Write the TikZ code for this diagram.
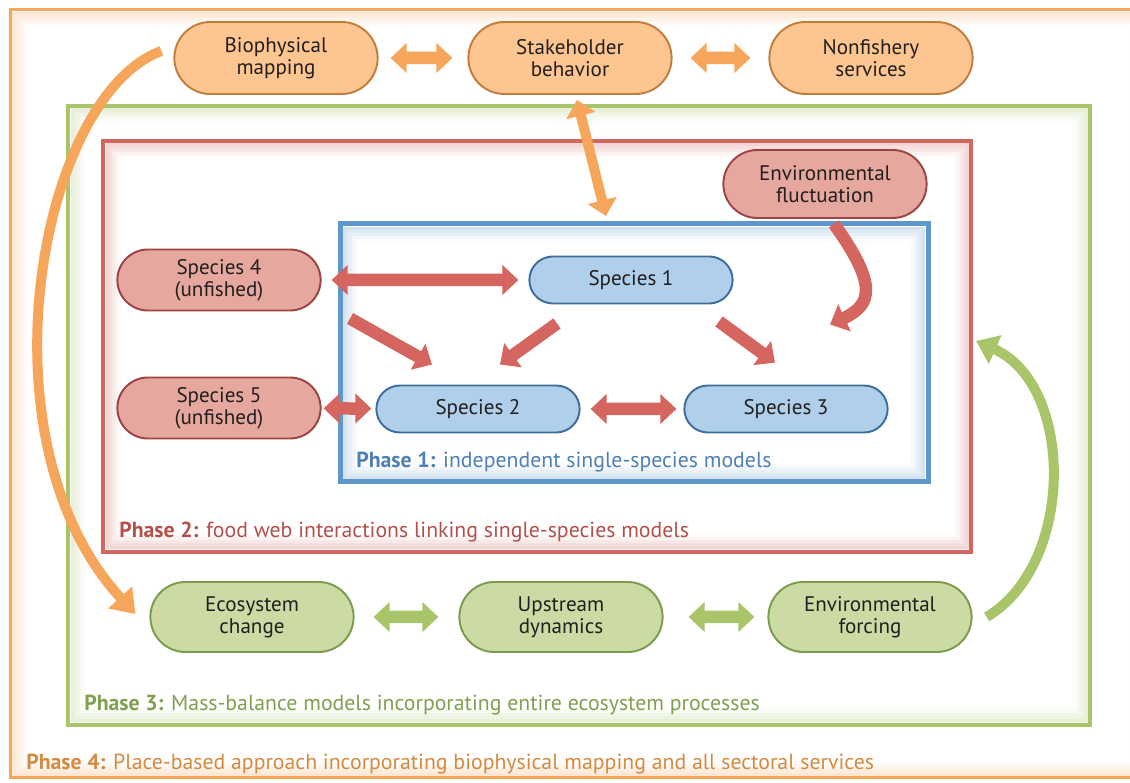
\documentclass[tikz,border=0pt]{standalone}
\usepackage{fontspec}
\setmainfont{PT Sans}
\usetikzlibrary{arrows.meta,shapes.misc}

\begin{document}
\begin{tikzpicture}[x=0.02cm,y=-0.02cm,
  box/.style={rounded rectangle,draw,line width=1.1pt,minimum width=4.3cm,
    align=center,text=ink,font=\fontsize{12}{12.5}\selectfont},
  fatone/.style={line width=0.25cm,-{Triangle[length=0.32cm,width=0.58cm]}},
  fatboth/.style={line width=0.25cm,{Triangle[length=0.32cm,width=0.58cm]}-{Triangle[length=0.32cm,width=0.58cm]}},
  phase/.style={anchor=base west,inner sep=0pt,font=\fontsize{12.4}{13}\selectfont}]
\definecolor{ink}{HTML}{231F20}
\definecolor{orangeline}{HTML}{F6A65A}
\definecolor{orangefill}{HTML}{FDC690}
\definecolor{orangeedge}{HTML}{C27C3C}
\definecolor{redline}{HTML}{D4665F}
\definecolor{redfill}{HTML}{E6A89E}
\definecolor{rededge}{HTML}{9E4343}
\definecolor{blueline}{HTML}{5F96CB}
\definecolor{bluefill}{HTML}{AFCFEA}
\definecolor{blueedge}{HTML}{3D6D9D}
\definecolor{greenline}{HTML}{A8C56A}
\definecolor{greenfill}{HTML}{CCDBA4}
\definecolor{greenedge}{HTML}{7B9C4C}
\definecolor{phaseone}{HTML}{4F80B5}
\definecolor{phasetwo}{HTML}{B4504C}
\definecolor{phasethree}{HTML}{80A050}
\definecolor{phasefour}{HTML}{D48A40}
\useasboundingbox[fill=white] (0,0) rectangle (1130,783);

% phase frames with a soft inner glow
\foreach \clr/\lw/\xa/\ya/\xb/\yb in {orangeline/3/10/10/1145/778,greenline/4/68/106/1090/725,
  redline/4/103/141/971/552,blueline/5/340/224/928/482}
{ \foreach \i [evaluate=\i as \op using 0.32-0.06*\i] in {1,...,5}
    \draw[\clr,line width=3*0.02cm,opacity=\op] (\xa+\lw/2+3*\i-1,\ya+\lw/2+3*\i-1) rectangle (\xb-\lw/2-3*\i+1,\yb-\lw/2-3*\i+1);
  \draw[\clr,line width=\lw*0.02cm] (\xa,\ya) rectangle (\xb,\yb);}

% phase 4 services
\node[box,fill=orangefill,draw=orangeedge,minimum height=1.44cm] (bio) at (276,58) {Biophysical\\mapping};
\node[box,fill=orangefill,draw=orangeedge,minimum height=1.44cm] (stake) at (570,58) {Stakeholder\\behavior};
\node[box,fill=orangefill,draw=orangeedge,minimum height=1.44cm] (nonfish) at (871,58) {Nonfishery\\services};
% phase 2 food web
\node[box,fill=redfill,draw=rededge,minimum height=1.36cm] (envfluct) at (825,184) {Environmental\\fluctuation};
\node[box,fill=redfill,draw=rededge,minimum height=1.22cm] (sp4) at (219,280) {Species 4\\(unfished)};
\node[box,fill=redfill,draw=rededge,minimum height=1.22cm] (sp5) at (219,408) {Species 5\\(unfished)};
% phase 1 single species
\node[box,fill=bluefill,draw=blueedge,minimum height=0.94cm] (sp1) at (631,280) {Species 1};
\node[box,fill=bluefill,draw=blueedge,minimum height=0.94cm] (sp2) at (478,409) {Species 2};
\node[box,fill=bluefill,draw=blueedge,minimum height=0.94cm] (sp3) at (786,409) {Species 3};
% phase 3 ecosystem
\node[box,fill=greenfill,draw=greenedge,minimum height=1.4cm] (ecochange) at (252,617) {Ecosystem\\change};
\node[box,fill=greenfill,draw=greenedge,minimum height=1.4cm] (upstream) at (561,617) {Upstream\\dynamics};
\node[box,fill=greenfill,draw=greenedge,minimum height=1.4cm] (forcing) at (870,617) {Environmental\\forcing};

\coordinate (blueN) at (606,216);
\coordinate (redE) at (976,341);

% connectors
\draw[fatboth,orangeline,shorten <=0.24cm,shorten >=0.3cm] (bio) -- (stake);
\draw[fatboth,orangeline,shorten <=0.36cm,shorten >=0.36cm] (stake) -- (nonfish);
\draw[fatboth,orangeline,line width=0.2cm] ([shift={(7,5)}]stake.south) -- (blueN);
\draw[fatone,orangeline,line width=0.2cm,-{Triangle[length=0.45cm,width=0.62cm]}]
  ([shift={(-12,-7)}]bio.west) .. controls (40,95) and (-25,440) .. ([shift={(-14,-3)}]ecochange.west);
\draw[fatboth,redline,shorten <=0.2cm,shorten >=0.2cm] (sp4) -- (sp1);
\draw[fatboth,redline,shorten <=0.04cm,shorten >=0.08cm] (sp5) -- (sp2);
\draw[fatboth,redline,shorten <=0.2cm,shorten >=0.14cm] (sp2) -- (sp3);
\draw[fatone,redline] ([shift={(131,7)}]sp4.south) -- ([shift={(-46,-20)}]sp2.north);
\draw[fatone,redline] ([shift={(-74,19)}]sp1.south) -- ([shift={(22,-20)}]sp2.north);
\draw[fatone,redline] ([shift={(88,17)}]sp1.south) -- ([shift={(-11,-22)}]sp3.north);
\draw[fatone,redline] ([shift={(9,5)}]envfluct.south) .. controls (878,285) and (872,305) .. ([shift={(44,-60)}]sp3.north);
\draw[fatboth,greenline,shorten <=0.38cm,shorten >=0.4cm] (ecochange) -- (upstream);
\draw[fatboth,greenline,shorten <=0.5cm,shorten >=0.26cm] (upstream) -- (forcing);
\draw[fatone,greenline,line width=0.2cm,-{Triangle[length=0.42cm,width=0.6cm]}]
  ([shift={(14,0)}]forcing.east) .. controls (1075,565) and (1075,385) .. (redE);

% phase labels
\node[phase,text=phaseone] (ph1) at (356,468) {\textbf{Phase 1:} independent single-species models};
\node[phase,text=phasetwo] (ph2) at (119,538) {\textbf{Phase 2:} food web interactions linking single-species models};
\node[phase,text=phasethree] (ph3) at (84,711) {\textbf{Phase 3:} Mass-balance models incorporating entire ecosystem processes};
\node[phase,text=phasefour] (ph4) at (26,770) {\textbf{Phase 4:} Place-based approach incorporating biophysical mapping and all sectoral services};
\end{tikzpicture}
\end{document}
